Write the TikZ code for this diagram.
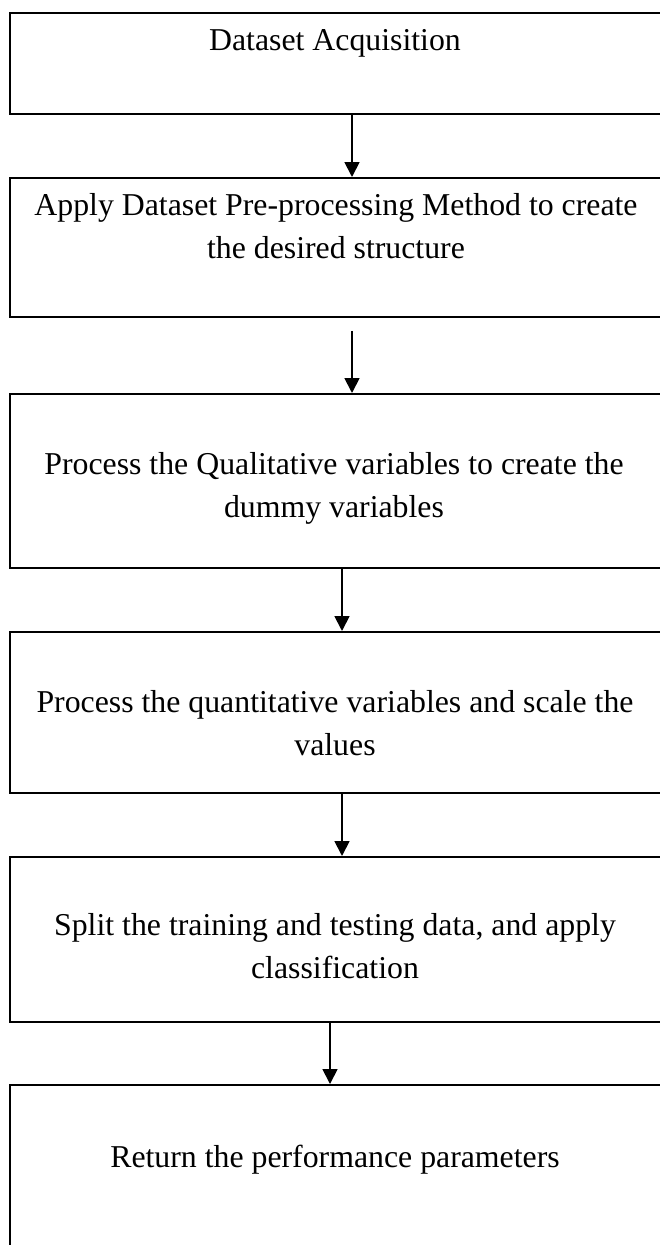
\documentclass[tikz,border=0pt]{standalone}
\usepackage{fontspec}
\setmainfont{Liberation Serif}
\usetikzlibrary{arrows.meta}
\begin{document}
\begin{tikzpicture}[x=1pt,y=-1pt,
  box/.style={draw=black,line width=1.8pt,rectangle,inner sep=0pt,anchor=north west,minimum width=660pt},
  txt/.style={align=center,inner sep=0pt,anchor=base,font=\fontsize{31.8}{43}\selectfont},
  arr/.style={line width=1.8pt,-{Triangle[width=15pt,length=15pt]}}]
\useasboundingbox (0,0) rectangle (660,1245);
\clip (0,0) rectangle (660,1245);
\node[box,minimum height=101pt] (b1) at (9,12) {};
\node[box,minimum height=139pt] (b2) at (9,177) {};
\node[box,minimum height=174pt] (b3) at (9,393) {};
\node[box,minimum height=161pt] (b4) at (9,631) {};
\node[box,minimum height=165pt] (b5) at (9,856) {};
\node[box,minimum height=180pt] (b6) at (9,1084) {};
\node[txt] (t1) at (335,50) {Dataset Acquisition};
\node[txt] (t2) at (336,258) {Apply Dataset Pre-processing Method to create\\the desired structure};
\node[txt] (t3) at (334,517) {Process the Qualitative variables to create the\\dummy variables};
\node[txt] (t4) at (335,755) {Process the quantitative variables and scale the\\values};
\node[txt] (t5) at (335,978) {Split the training and testing data, and apply\\classification};
\node[txt] (t6) at (335,1167) {Return the performance parameters};
\coordinate (xa) at (352,0);
\coordinate (xb) at (342,0);
\coordinate (xc) at (330,0);
\draw[arr] (b1.south -| xa) -- (b2.north -| xa);
\draw[arr] ([yshift=-13pt]b2.south -| xa) -- (b3.north -| xa);
\draw[arr] (b3.south -| xb) -- (b4.north -| xb);
\draw[arr] (b4.south -| xb) -- (b5.north -| xb);
\draw[arr] (b5.south -| xc) -- (b6.north -| xc);
\end{tikzpicture}
\end{document}
